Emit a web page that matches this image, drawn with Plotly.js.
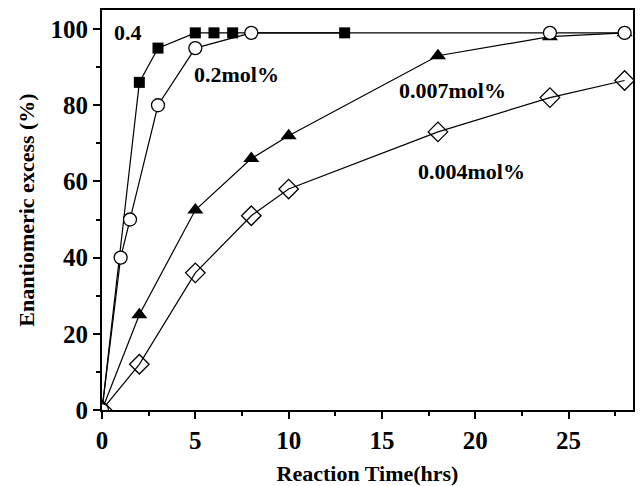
<!DOCTYPE html>
<html>
<head>
<meta charset="utf-8">
<script src="https://cdn.plot.ly/plotly-3.0.1.min.js"></script>
<style>html,body{margin:0;padding:0;background:#fff;}#chart{width:643px;height:486px;}</style>
</head>
<body>
<div id="chart"></div>
<script>
// Data
const time04 = [0, 2, 3, 5, 6, 7, 13];
const ee04   = [0, 86, 95, 99, 99, 99, 99];

const time02 = [0, 1, 1.5, 3, 5, 8, 24, 28];
const ee02   = [0, 40, 50, 80, 95, 99, 99, 99];

const time007 = [0, 2, 5, 8, 10, 18, 24, 28];
const ee007   = [0, 25, 52.5, 66, 72, 93, 98, 99];

const time004 = [0, 2, 5, 8, 10, 18, 24, 28];
const ee004   = [0, 12, 36, 51, 58, 73, 82, 86.5];

const seriesLabels = ["0.4", "0.2mol%", "0.007mol%", "0.004mol%"];
const xTitle = "Reaction Time(hrs)";
const yTitle = "Enantiomeric excess (%)";

const FONT = "Liberation Serif, Times New Roman, serif";
const line = {color: "#000", width: 1.2};

const traces = [
  {x: time04, y: ee04, mode: "lines+markers", line: line,
   marker: {symbol: "square", size: 11, color: "#000"}},
  {x: time007, y: ee007, mode: "lines+markers", line: line,
   marker: {symbol: "triangle-up", size: 14, color: "#000"}},
  {x: time004, y: ee004, mode: "lines+markers", line: line,
   marker: {symbol: "diamond-open", size: 15, color: "#000", line: {width: 1.3, color: "#000"}}},
  {x: time02, y: ee02, mode: "lines+markers", line: line,
   marker: {symbol: "circle", size: 13, color: "#fff", line: {width: 1.3, color: "#000"}}}
];

const annFont = {family: FONT, size: 22, color: "#000", weight: "bold"};
const annotations = [
  {x: 1.4, y: 99, text: "<b>" + seriesLabels[0] + "</b>"},
  {x: 7.2, y: 88, text: "<b>" + seriesLabels[1] + "</b>"},
  {x: 18.8, y: 84, text: "<b>" + seriesLabels[2] + "</b>"},
  {x: 19.8, y: 62.5, text: "<b>" + seriesLabels[3] + "</b>"}
].map(a => Object.assign(a, {xref: "x", yref: "y", showarrow: false, font: annFont}));

const axisCommon = {
  showgrid: false, zeroline: false, showline: true, linecolor: "#000", linewidth: 2,
  mirror: true, ticks: "outside", ticklen: 7, tickwidth: 2, tickcolor: "#000",
  tickfont: {family: FONT, size: 25, color: "#000", weight: "bold"}
};

const layout = {
  width: 643, height: 486,
  margin: {l: 102, r: 10, t: 10, b: 76},
  paper_bgcolor: "#fff", plot_bgcolor: "#fff",
  showlegend: false,
  xaxis: Object.assign({}, axisCommon, {
    range: [0, 28.45], tick0: 0, dtick: 5,
    minor: {dtick: 2.5, ticks: "outside", ticklen: 4, tickwidth: 2, tickcolor: "#000"},
    title: {text: "<b>" + xTitle + "</b>", font: {family: FONT, size: 22, color: "#000"}, standoff: 14}
  }),
  yaxis: Object.assign({}, axisCommon, {
    range: [0, 105], tick0: 0, dtick: 20,
    minor: {dtick: 10, ticks: "outside", ticklen: 4, tickwidth: 2, tickcolor: "#000"},
    title: {text: "<b>" + yTitle + "</b>", font: {family: FONT, size: 22, color: "#000"}, standoff: 10}
  }),
  annotations: annotations
};

Plotly.newPlot("chart", traces, layout, {displayModeBar: false, staticPlot: true});
</script>
</body>
</html>
